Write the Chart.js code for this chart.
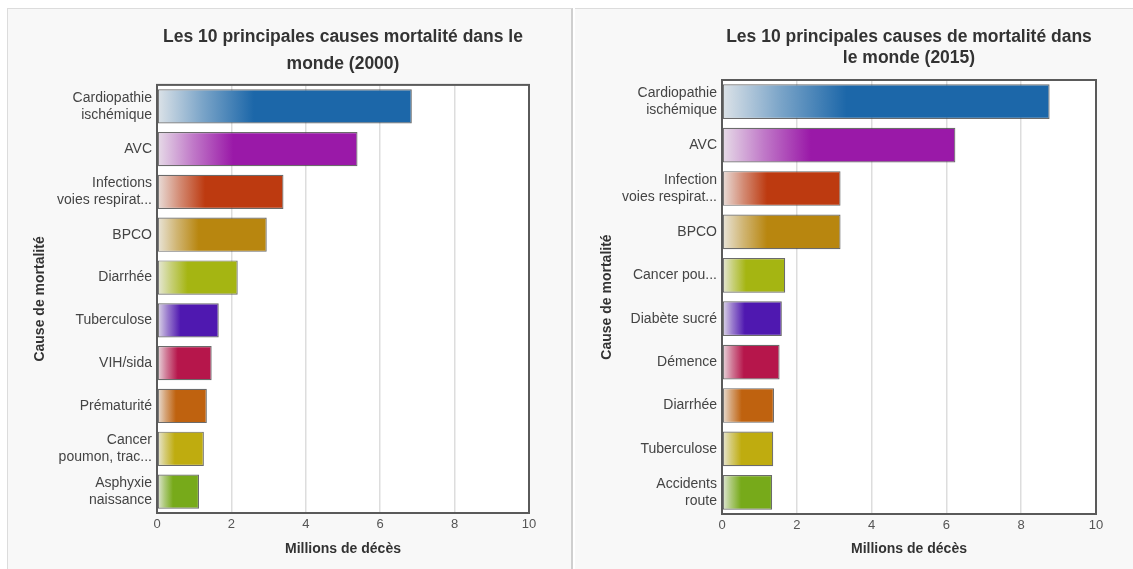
<!DOCTYPE html>
<html lang="fr">
<head>
<meta charset="utf-8">
<title>Principales causes de mortalité</title>
<script src="https://cdn.jsdelivr.net/npm/chart.js@4/dist/chart.umd.min.js"></script>
<style>
    html, body {
        margin: 0;
        padding: 0;
        background: #ffffff;
        width: 1133px;
        height: 569px;
        overflow: hidden;
    }

    .panel {
        position: absolute;
        top: 8px;
        height: 561px;
        background: #f8f8f8;
        border-top: 1px solid #dcdcdc;
        box-sizing: border-box;
    }

    #panel2000 {
        left: 7px;
        width: 566px;
        border-left: 1px solid #dcdcdc;
        border-right: 2px solid #cfcfcf;
    }

    #panel2015 {
        left: 575px;
        width: 558px;
    }

    canvas {
        position: absolute;
        top: -1px;
        left: 0;
    }
</style>
</head>
<body>

<div class="panel" id="panel2000"><canvas id="chart2000" width="564" height="561"></canvas></div>
<div class="panel" id="panel2015"><canvas id="chart2015" width="558" height="561"></canvas></div>

<script>
'use strict';

// --- data -------------------------------------------------------------

const causes2000 = [
    ['Cardiopathie', 'ischémique'],
    'AVC',
    ['Infections', 'voies respirat...'],
    'BPCO',
    'Diarrhée',
    'Tuberculose',
    'VIH/sida',
    'Prématurité',
    ['Cancer', 'poumon, trac...'],
    ['Asphyxie', 'naissance']
];

const deaths2000 = [6.85, 5.39, 3.40, 2.95, 2.17, 1.66, 1.47, 1.34, 1.26, 1.13];

const causes2015 = [
    ['Cardiopathie', 'ischémique'],
    'AVC',
    ['Infection', 'voies respirat...'],
    'BPCO',
    'Cancer pou...',
    'Diabète sucré',
    'Démence',
    'Diarrhée',
    'Tuberculose',
    ['Accidents', 'route']
];

const deaths2015 = [8.76, 6.24, 3.17, 3.17, 1.69, 1.60, 1.54, 1.39, 1.37, 1.34];

const barColors = [
    '#1c67a9',
    '#9a19a8',
    '#bd3a10',
    '#b8860f',
    '#a5b512',
    '#4f18b0',
    '#b6164b',
    '#bf620f',
    '#bfac0f',
    '#77aa1a'
];

const tickMin = 0;
const tickMax = 10;
const tickStep = 2;

// --- helpers ----------------------------------------------------------

/**
 * Mixes a hex colour with a light grey, t = share of the colour.
 */
function fade(hex, t) {

    const base = [238, 238, 238];
    const rgb = [1, 3, 5].map(i => parseInt(hex.substr(i, 2), 16));

    const out = rgb.map((c, i) => Math.round(base[i] + (c - base[i]) * t));

    return `rgb(${out.join(',')})`;

}

/**
 * Bar fill: light at the axis, full colour after ~38% of the bar.
 */
function barGradient(context) {

    const chart = context.chart;
    const color = barColors[context.dataIndex % barColors.length];

    if (!chart.chartArea || context.raw == null) {
        return color;
    }

    const scale = chart.scales.x;
    const x0 = scale.getPixelForValue(0);
    const x1 = scale.getPixelForValue(context.raw);

    const gradient = chart.ctx.createLinearGradient(x0, 0, x1, 0);

    gradient.addColorStop(0, fade(color, 0.08));
    gradient.addColorStop(0.18, fade(color, 0.55));
    gradient.addColorStop(0.38, color);
    gradient.addColorStop(1, color);

    return gradient;

}

// white plot background + dark frame round the plot area
const plotFrame = {

    id: 'plotFrame',

    beforeDraw(chart) {

        const {ctx, chartArea: a} = chart;

        ctx.save();
        ctx.fillStyle = '#ffffff';
        ctx.fillRect(a.left, a.top, a.right - a.left, a.bottom - a.top);
        ctx.restore();

    },

    afterDraw(chart) {

        const {ctx, chartArea: a} = chart;

        ctx.save();
        ctx.strokeStyle = '#5a5a5a';
        ctx.lineWidth = 2;
        ctx.strokeRect(a.left, a.top, a.right - a.left, a.bottom - a.top);
        ctx.restore();

    }

};

/**
 * Builds one horizontal bar chart.
 */
function createChart(canvas, cfg) {

    return new Chart(canvas, {

        type: 'bar',

        data: {

            labels: cfg.labels,

            datasets: [

                {
                    label: 'Millions de décès',
                    data: cfg.values,
                    backgroundColor: barGradient,
                    borderColor: 'rgba(70,70,70,.8)',
                    borderWidth: 1.2,
                    borderSkipped: false,
                    barPercentage: 0.8,
                    categoryPercentage: 1
                }

            ]

        },

        options: {

            indexAxis: 'y',

            responsive: false,

            animation: false,

            layout: {
                padding: {
                    top: 0,
                    right: cfg.padRight,
                    bottom: 0,
                    left: 0
                }
            },

            plugins: {

                legend: {
                    display: false
                },

                tooltip: {
                    enabled: false
                },

                title: {

                    display: true,
                    fullSize: false,
                    text: cfg.title,
                    color: '#333333',

                    font: {
                        family: '"Liberation Sans", Arial, sans-serif',
                        size: 17.5,
                        weight: 'bold',
                        lineHeight: cfg.titleLine
                    },

                    padding: cfg.titlePadding

                }

            },

            scales: {

                x: {

                    min: tickMin,
                    max: tickMax,

                    border: {
                        display: false
                    },

                    grid: {
                        color: '#dddddd',
                        lineWidth: 1.5,
                        drawTicks: false
                    },

                    ticks: {
                        stepSize: tickStep,
                        padding: 4,
                        color: '#555555',
                        font: {
                            family: '"Liberation Sans", Arial, sans-serif',
                            size: 13
                        }
                    },

                    title: {
                        display: true,
                        text: 'Millions de décès',
                        color: '#333333',
                        padding: {top: 0, bottom: 11},
                        font: {
                            family: '"Liberation Sans", Arial, sans-serif',
                            size: 14,
                            weight: 'bold'
                        }
                    },

                    afterFit(scale) {
                        scale.height = cfg.xHeight;
                    }

                },

                y: {

                    border: {
                        display: false
                    },

                    grid: {
                        display: false,
                        drawTicks: false
                    },

                    ticks: {
                        padding: 5,
                        color: '#444444',
                        font: {
                            family: '"Liberation Sans", Arial, sans-serif',
                            size: 14,
                            lineHeight: 1.2
                        }
                    },

                    title: {
                        display: true,
                        text: 'Cause de mortalité',
                        color: '#333333',
                        padding: {top: 24, bottom: 0},
                        font: {
                            family: '"Liberation Sans", Arial, sans-serif',
                            size: 14,
                            weight: 'bold'
                        }
                    },

                    afterFit(scale) {
                        scale.width = cfg.yWidth;
                    }

                }

            }

        },

        plugins: [plotFrame]

    });

}

createChart(document.getElementById('chart2000'), {
    labels: causes2000,
    values: deaths2000,
    title: ['Les 10 principales causes mortalité dans le', 'monde (2000)'],
    titleLine: 1.54,
    titlePadding: {top: 15.5, bottom: 7.5},
    padRight: 43,
    yWidth: 149,
    xHeight: 56
});

createChart(document.getElementById('chart2015'), {
    labels: causes2015,
    values: deaths2015,
    title: ['Les 10 principales causes de mortalité dans', 'le monde (2015)'],
    titleLine: 1.2,
    titlePadding: {top: 18.5, bottom: 11.5},
    padRight: 37,
    yWidth: 147,
    xHeight: 55
});
</script>

</body>
</html>
